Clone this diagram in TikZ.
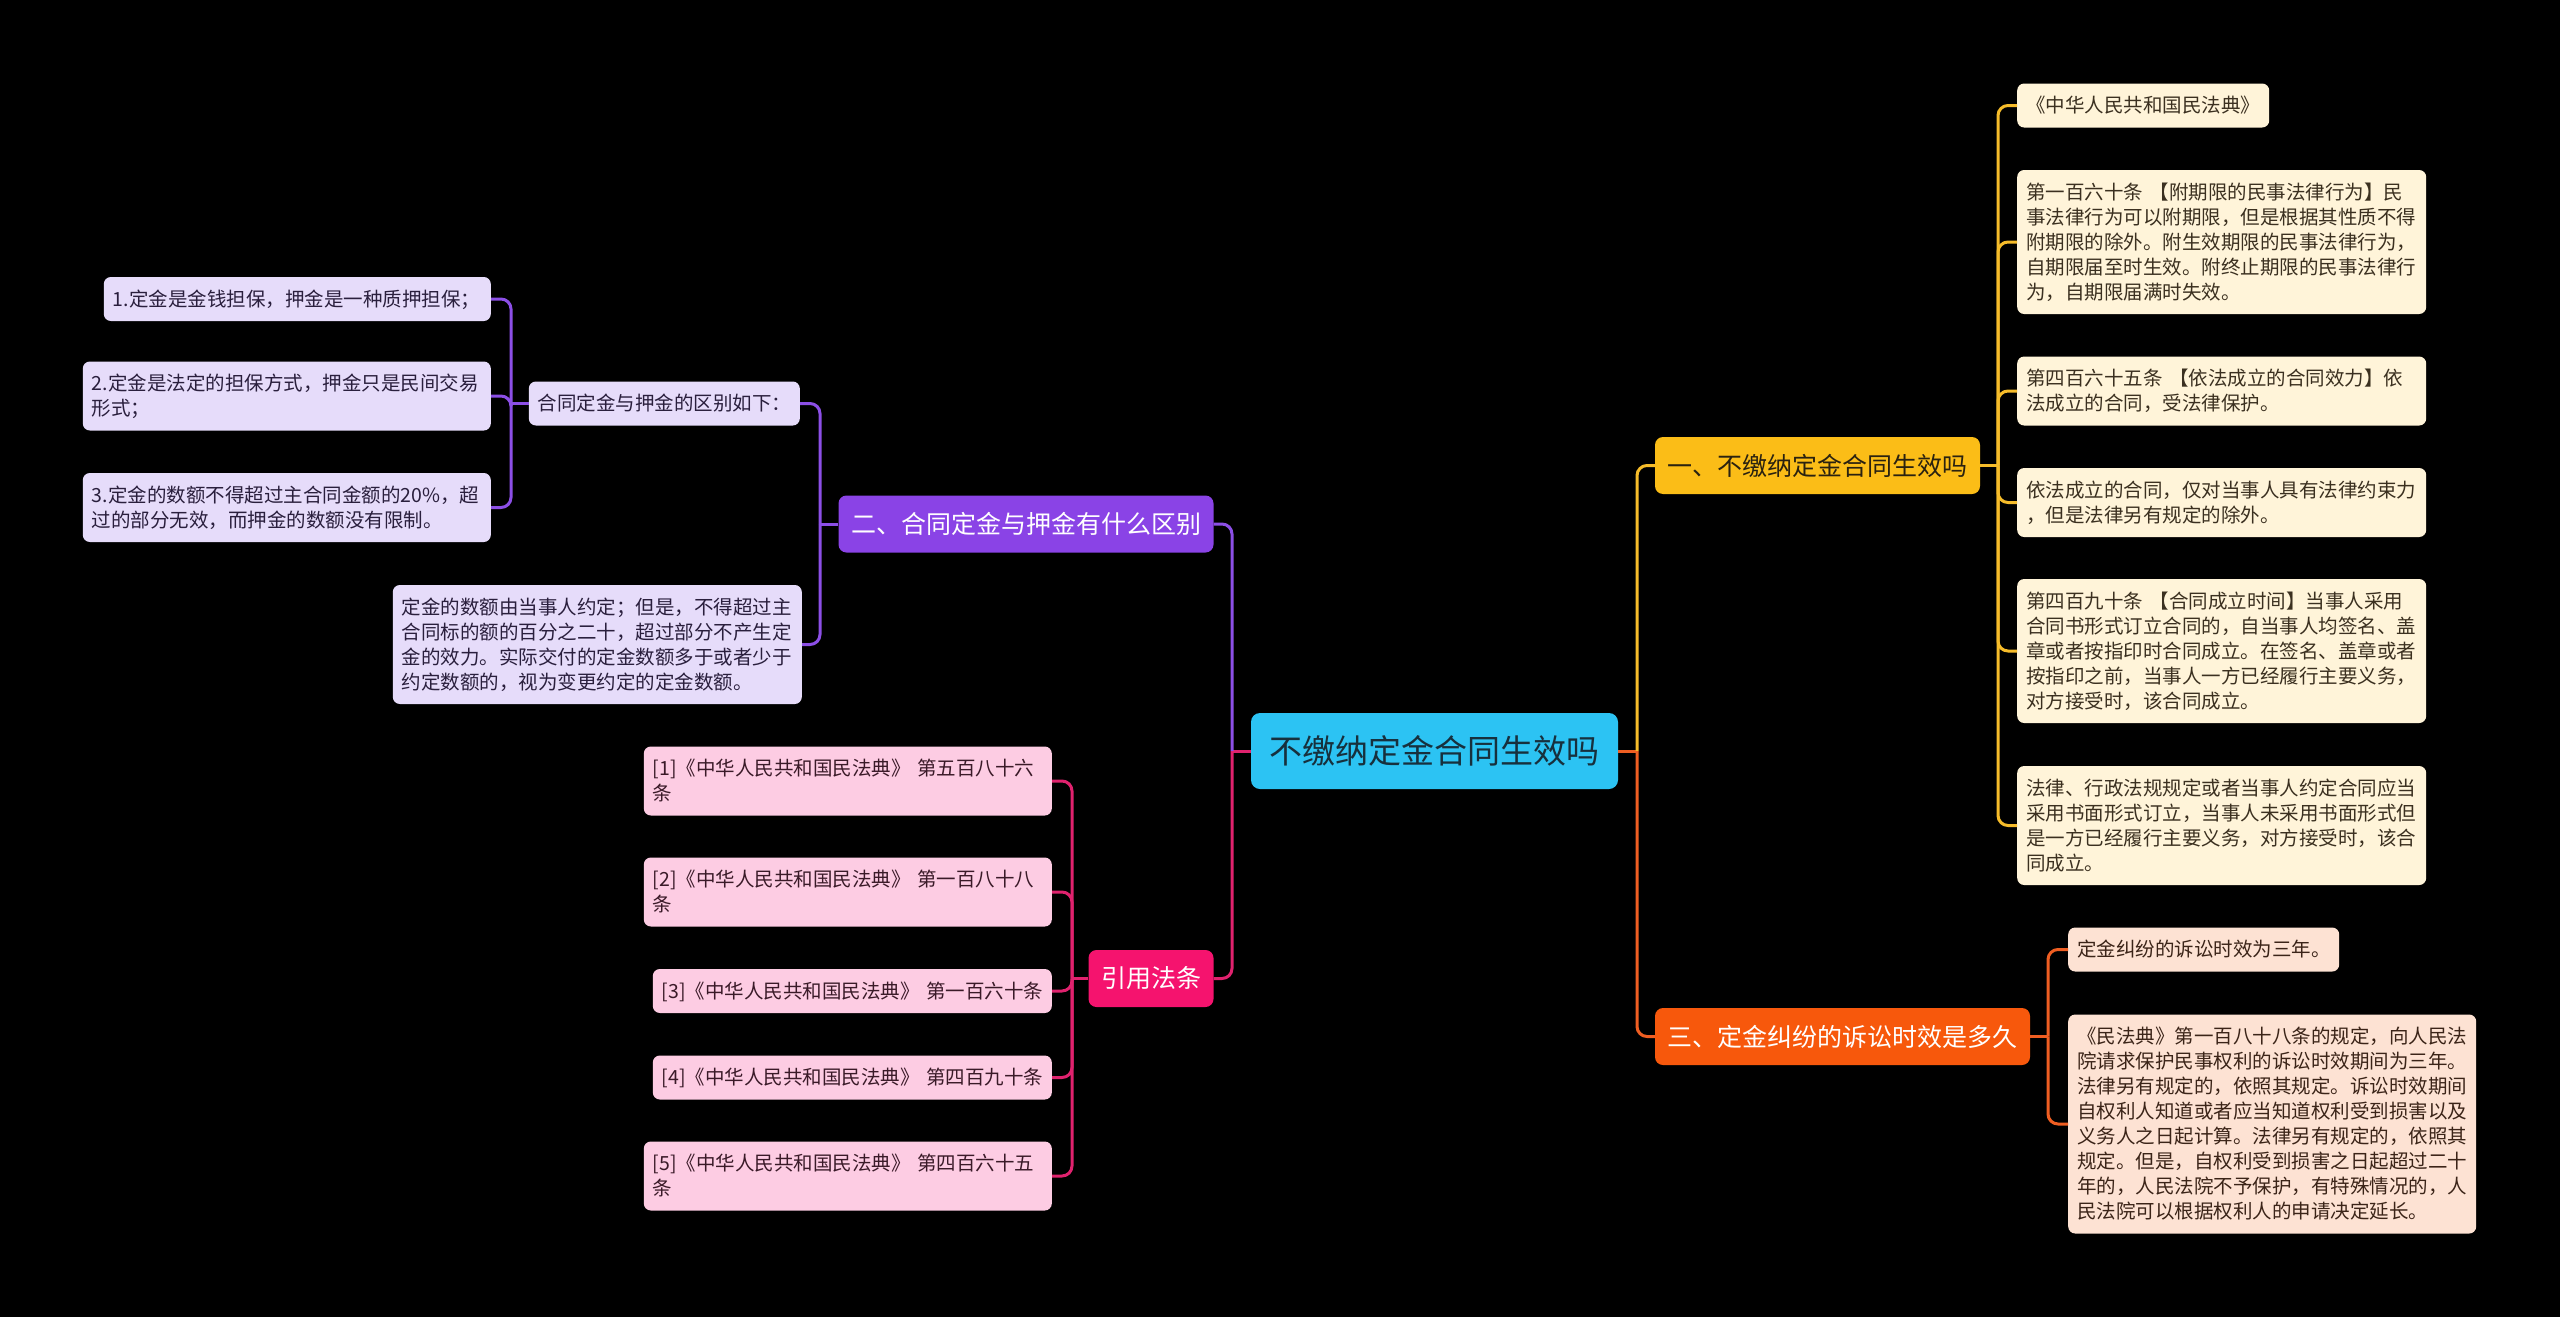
\documentclass[tikz,border=0pt]{standalone}
\usepackage{fontspec}
\setmainfont{Noto Sans CJK SC}

\definecolor{rootblue}{HTML}{2CC3F3}
\definecolor{roottext}{HTML}{17303D}
\definecolor{yelbr}{HTML}{FBBD17}
\definecolor{yeltitle}{HTML}{2A2210}
\definecolor{yelleaf}{HTML}{FFF4D9}
\definecolor{yeltext}{HTML}{3B3020}
\definecolor{yelline}{HTML}{F6BC2A}
\definecolor{purbr}{HTML}{8A43E6}
\definecolor{purleaf}{HTML}{E6DCFA}
\definecolor{purtext}{HTML}{2A1F3D}
\definecolor{purline}{HTML}{8C4FE6}
\definecolor{orabr}{HTML}{F7580C}
\definecolor{oraleaf}{HTML}{FDE2D3}
\definecolor{oratext}{HTML}{3B2418}
\definecolor{oraline}{HTML}{EF5E22}
\definecolor{pinkbr}{HTML}{F5136E}
\definecolor{pinkleaf}{HTML}{FDCCE3}
\definecolor{pinktext}{HTML}{3A1A28}
\definecolor{pinkline}{HTML}{E0226E}

\newcommand\leaffont{\fontsize{19.5pt}{25pt}\selectfont}
\newcommand\branchfont{\fontsize{25pt}{30pt}\selectfont}
\newcommand\rootfont{\fontsize{33pt}{40pt}\selectfont}
\newcommand\leafstrut{\rule[-5.5pt]{0pt}{25pt}}

\begin{document}
\begin{tikzpicture}[x=1pt,y=-1pt,
  leaf/.style={rounded corners=7pt, inner xsep=9pt, inner ysep=9.5pt, align=left, font=\leaffont,
    execute at begin node=\leafstrut, execute at end node=\leafstrut},
  yleaf/.style={leaf, fill=yelleaf, text=yeltext, anchor=west},
  oleaf/.style={leaf, fill=oraleaf, text=oratext, anchor=west},
  pleaf/.style={leaf, fill=purleaf, text=purtext, anchor=east},
  kleaf/.style={leaf, fill=pinkleaf, text=pinktext, anchor=east},
  branch/.style={rounded corners=8pt, minimum height=57pt, inner xsep=12.5pt, font=\branchfont},
  rootbox/.style={rounded corners=9pt, fill=rootblue, text=roottext, minimum width=367pt, minimum height=76pt, font=\rootfont},
  link/.style={line width=3pt, rounded corners=10pt}
]
\fill[black] (0,0) rectangle (2560,1317);

% centre and main branches
\node[rootbox] (root) at (1434.5,751) {不缴纳定金合同生效吗};
\node[branch, fill=yelbr, text=yeltitle, minimum width=325pt] (one) at (1817.5,465.5) {一、不缴纳定金合同生效吗};
\node[branch, fill=purbr, text=white, minimum width=375pt] (two) at (1026,524) {二、合同定金与押金有什么区别};
\node[branch, fill=orabr, text=white, minimum width=375pt] (three) at (1842.5,1036.5) {三、定金纠纷的诉讼时效是多久};
\node[branch, fill=pinkbr, text=white, minimum width=125pt] (refs) at (1151,978.5) {引用法条};

% right side: part one
\node[yleaf, text width=234pt] (y1) at (2017,105.5) {《中华人民共和国民法典》};
\node[yleaf, text width=391pt] (y2) at (2017,242) {第一百六十条 【附期限的民事法律行为】民\\事法律行为可以附期限，但是根据其性质不得\\附期限的除外。附生效期限的民事法律行为，\\自期限届至时生效。附终止期限的民事法律行\\为，自期限届满时失效。};
\node[yleaf, text width=391pt] (y3) at (2017,391) {第四百六十五条 【依法成立的合同效力】依\\法成立的合同，受法律保护。};
\node[yleaf, text width=391pt] (y4) at (2017,502.5) {依法成立的合同，仅对当事人具有法律约束力\\，但是法律另有规定的除外。};
\node[yleaf, text width=391pt] (y5) at (2017,651) {第四百九十条 【合同成立时间】当事人采用\\合同书形式订立合同的，自当事人均签名、盖\\章或者按指印时合同成立。在签名、盖章或者\\按指印之前，当事人一方已经履行主要义务，\\对方接受时，该合同成立。};
\node[yleaf, text width=391pt] (y6) at (2017,825.5) {法律、行政法规规定或者当事人约定合同应当\\采用书面形式订立，当事人未采用书面形式但\\是一方已经履行主要义务，对方接受时，该合\\同成立。};

% right side: part three
\node[oleaf, text width=253pt] (o1) at (2068,949.5) {定金纠纷的诉讼时效为三年。};
\node[oleaf, text width=390pt] (o2) at (2068,1124) {《民法典》第一百八十八条的规定，向人民法\\院请求保护民事权利的诉讼时效期间为三年。\\法律另有规定的，依照其规定。诉讼时效期间\\自权利人知道或者应当知道权利受到损害以及\\义务人之日起计算。法律另有规定的，依照其\\规定。但是，自权利受到损害之日起超过二十\\年的，人民法院不予保护，有特殊情况的，人\\民法院可以根据权利人的申请决定延长。};

% left side: part two
\node[pleaf, text width=253pt] (diff) at (800,403.5) {合同定金与押金的区别如下：};
\node[pleaf, text width=369pt] (p1) at (491,299) {1.定金是金钱担保，押金是一种质押担保；};
\node[pleaf, text width=390pt] (p2) at (491,396) {2.定金是法定的担保方式，押金只是民间交易\\形式；};
\node[pleaf, text width=390pt] (p3) at (491,507.5) {3.定金的数额不得超过主合同金额的20\%，超\\过的部分无效，而押金的数额没有限制。};
\node[pleaf, text width=391pt] (p4) at (802,644.5) {定金的数额由当事人约定；但是，不得超过主\\合同标的额的百分之二十，超过部分不产生定\\金的效力。实际交付的定金数额多于或者少于\\约定数额的，视为变更约定的定金数额。};

% left side: references
\node[kleaf, text width=390pt] (k1) at (1052,781) {[1]《中华人民共和国民法典》~第五百八十六\\条};
\node[kleaf, text width=390pt] (k2) at (1052,892) {[2]《中华人民共和国民法典》~第一百八十八\\条};
\node[kleaf, text width=381pt] (k3) at (1052,991) {[3]《中华人民共和国民法典》~第一百六十条};
\node[kleaf, text width=381pt] (k4) at (1052,1077.5) {[4]《中华人民共和国民法典》~第四百九十条};
\node[kleaf, text width=390pt] (k5) at (1052,1176) {[5]《中华人民共和国民法典》~第四百六十五\\条};

% trunks
\coordinate (tkL) at (1232,751);
\coordinate (tkR) at (1637,751);
\coordinate (tkone) at (1998,465.5);
\coordinate (tkthree) at (2048,1036.5);
\coordinate (tktwo) at (820,524);
\coordinate (tkdiff) at (511,403.5);
\coordinate (tkrefs) at (1072,978.5);

% connectors
\draw[link, oraline] (root.east) -- (tkR);
\draw[link, yelline] (tkR) |- (one.west);
\draw[link, oraline] (tkR) |- (three.west);
\draw[link, pinkline] (root.west) -- (tkL);
\draw[link, purline] (tkL) |- (two.east);
\draw[link, pinkline] (tkL) |- (refs.east);

\draw[link, yelline] (one.east) -- (tkone);
\foreach \n in {1,...,6}
  \draw[link, yelline] (tkone) |- (y\n.west);

\draw[link, oraline] (three.east) -- (tkthree);
\foreach \n in {1,2}
  \draw[link, oraline] (tkthree) |- (o\n.west);

\draw[link, purline] (two.west) -- (tktwo);
\draw[link, purline] (tktwo) |- (diff.east);
\draw[link, purline] (tktwo) |- (p4.east);
\draw[link, purline] (diff.west) -- (tkdiff);
\foreach \n in {1,2,3}
  \draw[link, purline] (tkdiff) |- (p\n.east);

\draw[link, pinkline] (refs.west) -- (tkrefs);
\foreach \n in {1,...,5}
  \draw[link, pinkline] (tkrefs) |- (k\n.east);
\end{tikzpicture}
\end{document}
